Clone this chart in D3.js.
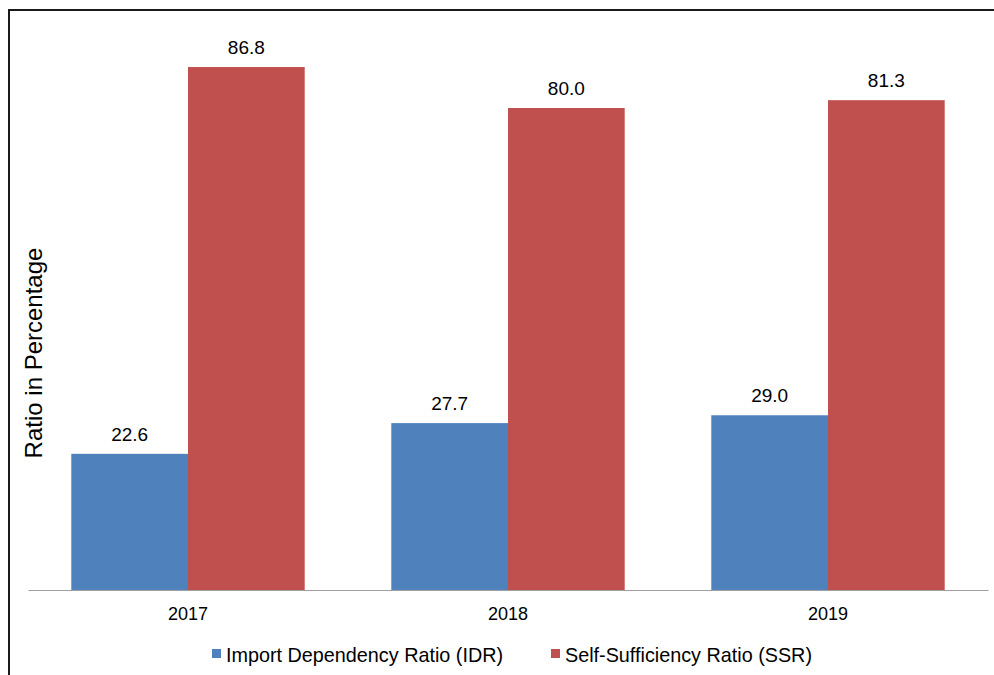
<!DOCTYPE html>
<html>
<head>
<meta charset="utf-8">
<script src="https://cdn.jsdelivr.net/npm/d3@7"></script>
<style>
  html, body { margin: 0; padding: 0; background: #fff; }
  svg { display: block; font-family: "Liberation Sans", Arial, sans-serif; }
</style>
</head>
<body>
<svg id="chart" width="994" height="675"></svg>
<script>
const years = ["2017", "2018", "2019"];
const seriesNames = ["Import Dependency Ratio (IDR)", "Self-Sufficiency Ratio (SSR)"];
const idrValues = [22.6, 27.7, 29.0];
const ssrValues = [86.8, 80.0, 81.3];
const seriesColors = ["#4F81BD", "#C0504D"];

const data = years.map((y, i) => ({ year: y, values: [idrValues[i], ssrValues[i]] }));

const svg = d3.select("#chart");
const W = 994, H = 675;

// frame (clipped at right and bottom)
svg.append("rect")
  .attr("x", 9).attr("y", 10)
  .attr("width", W + 20).attr("height", H + 20)
  .attr("fill", "none").attr("stroke", "#1a1a1a").attr("stroke-width", 2);

const plotLeft = 28, plotRight = 988, baseline = 590;
const x0 = d3.scaleBand().domain(years).range([plotLeft, plotRight]).paddingInner(0).paddingOuter(0);
const groupW = 233.4;
const x1 = d3.scaleBand().domain([0, 1]).range([0, groupW]).padding(0);
const y = d3.scaleLinear().domain([0, 90]).range([baseline, baseline - 6.025 * 90]);

const groups = svg.append("g").selectAll("g").data(data).join("g")
  .attr("transform", d => `translate(${x0(d.year) + (x0.bandwidth() - groupW) / 2},0)`);

groups.selectAll("rect").data(d => d.values.map((v, i) => ({ v, i }))).join("rect")
  .attr("x", d => x1(d.i))
  .attr("y", d => y(d.v))
  .attr("width", x1.bandwidth())
  .attr("height", d => y(0) - y(d.v))
  .attr("fill", d => seriesColors[d.i]);

groups.selectAll("text").data(d => d.values.map((v, i) => ({ v, i }))).join("text")
  .attr("x", d => x1(d.i) + x1.bandwidth() / 2)
  .attr("y", d => y(d.v) - 13)
  .attr("text-anchor", "middle")
  .attr("font-size", 19)
  .attr("fill", "#000")
  .text(d => d.v.toFixed(1));

// x axis
const xAxis = svg.append("g").attr("transform", `translate(0,${baseline})`)
  .call(d3.axisBottom(x0).tickSize(0).tickPadding(17));
xAxis.select(".domain").attr("stroke", "#a0a0a0").attr("stroke-width", 1.2);
xAxis.selectAll("text").attr("font-size", 18).attr("fill", "#000")
  .attr("font-family", "Liberation Sans, Arial, sans-serif");

// y label
svg.append("text")
  .attr("transform", "translate(42,353) rotate(-90)")
  .attr("text-anchor", "middle")
  .attr("font-size", 24)
  .attr("fill", "#000")
  .text("Ratio in Percentage");

// legend
const legendX = [212, 551];
const legend = svg.append("g").selectAll("g").data(seriesNames).join("g")
  .attr("transform", (d, i) => `translate(${legendX[i]},649)`);
legend.append("rect").attr("width", 9).attr("height", 9)
  .attr("fill", (d, i) => seriesColors[i]);
legend.append("text").attr("x", 14).attr("y", 12.5)
  .attr("font-size", 19.8).attr("fill", "#000").text(d => d);
</script>
</body>
</html>
